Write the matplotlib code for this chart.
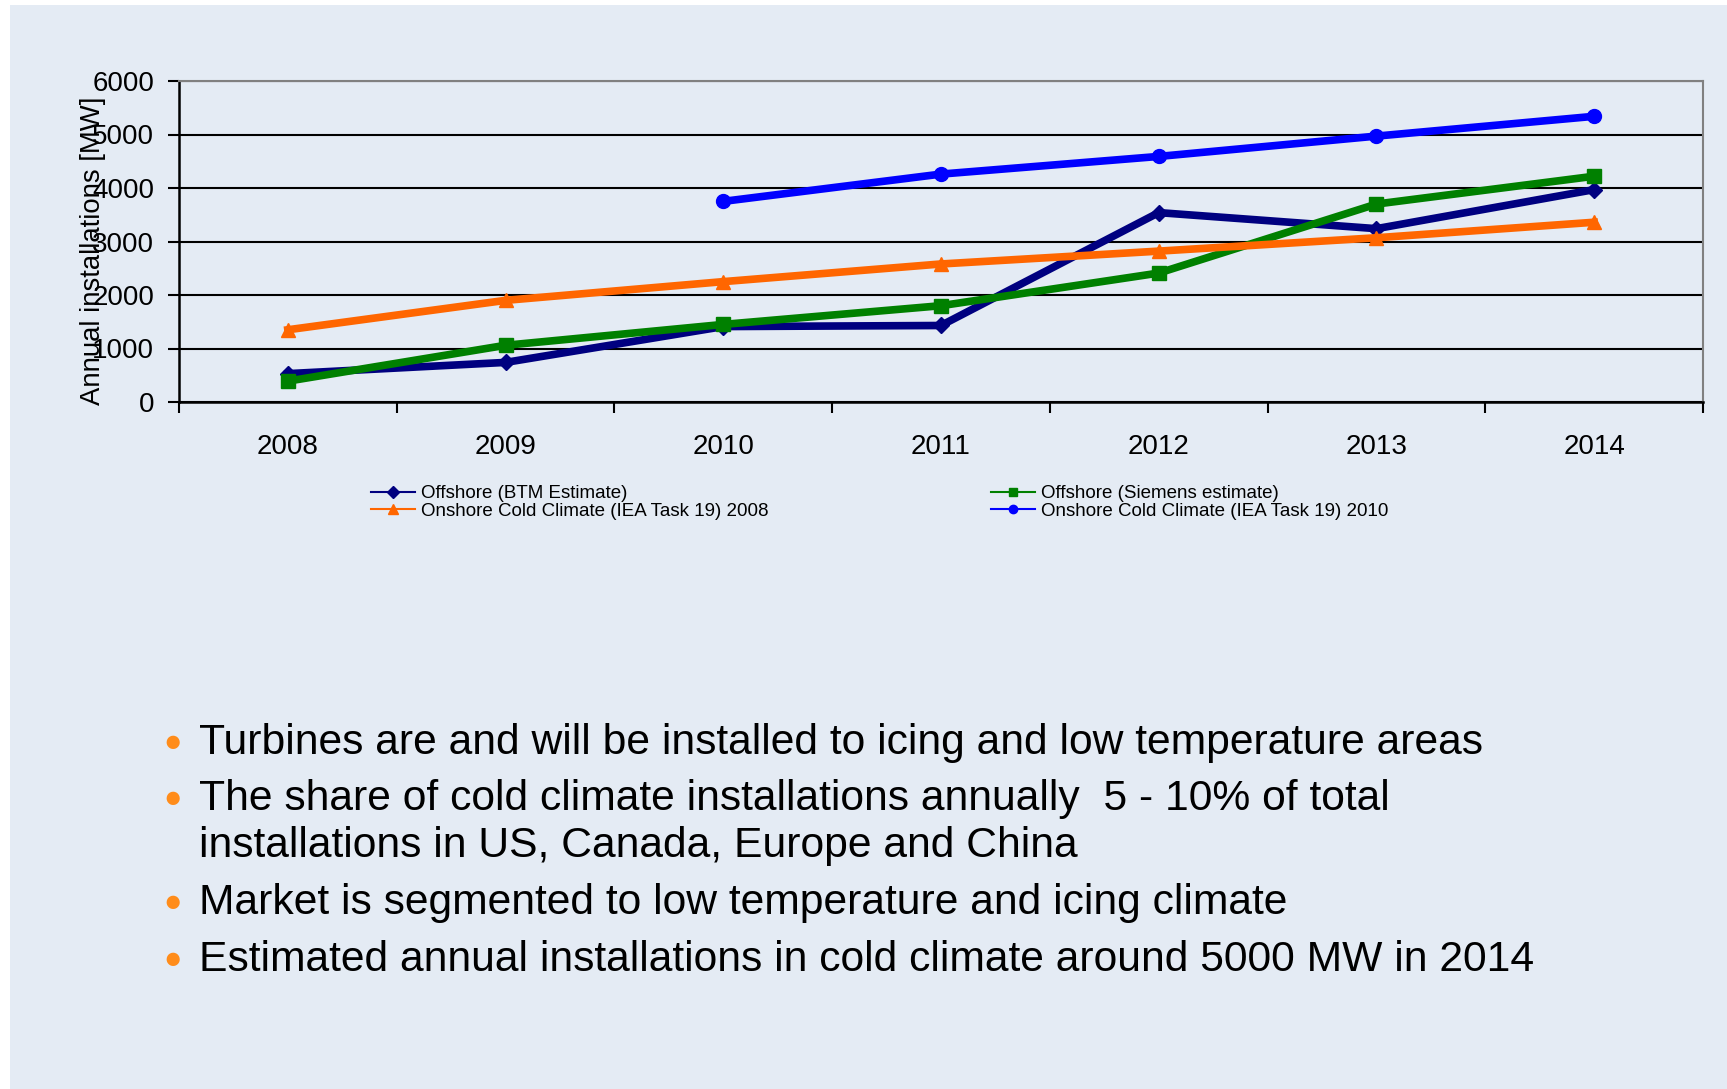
import numpy as np
import matplotlib
matplotlib.use("Agg")
import matplotlib.pyplot as plt
from matplotlib.patches import Rectangle
from matplotlib.lines import Line2D

plt.rcParams['font.family'] = ['Liberation Sans', 'DejaVu Sans']

# Annual installations [MW]
years = ['2008', '2009', '2010', '2011', '2012', '2013', '2014']
offshore_btm = [530, 740, 1410, 1430, 3540, 3240, 3970]
offshore_siemens = [390, 1060, 1450, 1800, 2410, 3700, 4220]
onshore_2008 = [1350, 1900, 2250, 2580, 2820, 3070, 3360]
onshore_2010 = [np.nan, np.nan, 3750, 4260, 4590, 4970, 5340]

# bullet points, one list per bullet (continuation lines follow the first)
bullets = [
    ["Turbines are and will be installed to icing and low temperature areas"],
    ["The share of cold climate installations annually  5 - 10% of total",
     "installations in US, Canada, Europe and China"],
    ["Market is segmented to low temperature and icing climate"],
    ["Estimated annual installations in cold climate around 5000 MW in 2014"],
]

W, H = 1727, 1089
bg = '#E4EBF4'

fig = plt.figure(figsize=(W / 100, H / 100), dpi=100, facecolor='white')
fig.patches.append(Rectangle((10 / W, 0), 1, 1 - 5 / H, transform=fig.transFigure,
                             facecolor=bg, edgecolor='none', zorder=-10))

ax = fig.add_axes([179 / W, 1 - 402 / H, (1703 - 179) / W, (402 - 81) / H])
ax.set_facecolor(bg)

x = np.arange(len(years))
ax.plot(x, offshore_btm, color='#000080', lw=5.5, marker='D', ms=8, zorder=3)
ax.plot(x, offshore_siemens, color='#008000', lw=5.5, marker='s', ms=10, zorder=3)
ax.plot(x, onshore_2008, color='#FF6600', lw=5.5, marker='^', ms=10, zorder=3)
ax.plot(x, onshore_2010, color='#0000FF', lw=5.5, marker='o', ms=10, zorder=3)

ax.set_xlim(-0.5, len(years) - 0.5)
ax.set_ylim(0, 6000)
ax.set_yticks(np.arange(0, 6001, 1000))
ax.yaxis.grid(True, color='black', lw=1.5)
ax.set_axisbelow(True)
ax.tick_params(axis='y', labelsize=20, length=8, width=1.5, pad=10, direction='out')

ax.set_xticks(x)
ax.set_xticklabels(years)
ax.set_xticks(np.arange(-0.5, len(years), 1), minor=True)
ax.tick_params(axis='x', which='major', length=0, labelsize=20, pad=23)
ax.tick_params(axis='x', which='minor', length=8, width=1.5, direction='out')

for s in ['left', 'bottom']:
    ax.spines[s].set_color('black')
    ax.spines[s].set_linewidth(1.8)
for s in ['top', 'right']:
    ax.spines[s].set_color('#808080')
    ax.spines[s].set_linewidth(1.5)

fig.text(93 / W, 1 - 251 / H, 'Annual installations [MW]', rotation=90,
         ha='center', va='center', fontsize=19.8)

handles = [
    Line2D([], [], color='#000080', lw=1.5, marker='D', ms=6),
    Line2D([], [], color='#FF6600', lw=1.5, marker='^', ms=7),
    Line2D([], [], color='#008000', lw=1.5, marker='s', ms=6),
    Line2D([], [], color='#0000FF', lw=1.5, marker='o', ms=6),
]
labels = ['Offshore (BTM Estimate)', 'Onshore Cold Climate (IEA Task 19) 2008',
          'Offshore (Siemens estimate)', 'Onshore Cold Climate (IEA Task 19) 2010']
fig.legend(handles, labels, ncol=2, loc='upper left', frameon=False,
           bbox_to_anchor=(371 / W, 1 - 485 / H), prop={'size': 13.5},
           handlelength=2.35, handletextpad=0.3, labelspacing=0.02,
           columnspacing=11.9, borderaxespad=0, borderpad=0)

# line centres of the bullet text, in pixels from the top
line_y = [743, 799, 846, 903, 960]
i = 0
for b in bullets:
    fig.text(173 / W, 1 - line_y[i] / H, u'\u25CF', color='#FF8C1A', fontsize=22,
             ha='center', va='center')
    for t in b:
        fig.text(199 / W, 1 - line_y[i] / H, t, fontsize=30.7, ha='left', va='center')
        i += 1

fig.savefig('out.png', dpi=100, facecolor='white')
